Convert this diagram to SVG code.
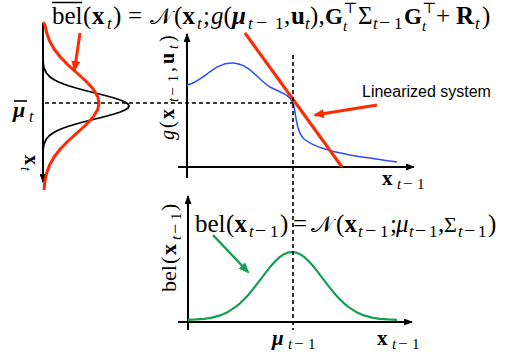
<svg xmlns="http://www.w3.org/2000/svg" width="509" height="358" viewBox="0 0 509 358">
<defs>
<marker id="ahk" markerWidth="9" markerHeight="7" refX="8" refY="3.5" orient="auto" markerUnits="userSpaceOnUse"><path d="M0,0 L9,3.5 L0,7 z" fill="#000"/></marker>
<marker id="ahr" markerWidth="11" markerHeight="9" refX="9" refY="4.5" orient="auto" markerUnits="userSpaceOnUse"><path d="M0,0 L11,4.5 L0,9 z" fill="#ff2a00"/></marker>
<marker id="ahg" markerWidth="11" markerHeight="9" refX="9" refY="4.5" orient="auto" markerUnits="userSpaceOnUse"><path d="M0,0 L11,4.5 L0,9 z" fill="#12a050"/></marker>
</defs>
<style>
.m{font-family:"Liberation Serif","DejaVu Serif",serif;font-size:25px;fill:#000}
.b{font-weight:bold}
.i{font-style:italic}
.s{font-size:17px}
.sp{font-size:15px}
.mn{font-size:20px}
.g{font-size:23px}
.cal{font-family:"DejaVu Sans","DejaVu Serif","Noto Sans",serif;font-style:normal;font-size:23px}
.ax{stroke:#000;stroke-width:2;fill:none}
.dash{stroke:#000;stroke-width:1.6;stroke-dasharray:4 3;fill:none}
.lab{font-family:"Liberation Sans",Arial,sans-serif;font-size:16px;fill:#000}
</style>

<g id="left-plot">
<line class="ax" x1="43" y1="23" x2="43" y2="182" marker-end="url(#ahk)"/>
<polyline fill="none" stroke="#000" stroke-width="1.8" stroke-linejoin="round" points="43,58 43.2,63 43.8,67 44.9,70 46.4,73 49,76 51.5,78 54.6,80 58.6,82 63.5,84 69.3,86 76,88 83.3,90 91.2,92 99.2,94 107,96 114.2,98 120.3,100 125,102 128,104 129,106 128,108 125,110 120.3,112 114.2,114 107,116 99.2,118 91.2,120 83.3,122 76,124 69.3,126 63.5,128 58.6,130 54.6,132 51.5,134 49,136 46.4,139 44.9,142 43.8,145 43.2,149 43,154"/>
<polyline fill="none" stroke="#ff2a00" stroke-width="3" stroke-linejoin="round" points="43,22 44.9,25 46.7,33 49.6,41 54.1,49 60.3,57 68.1,65 77,73 85.8,81 93.2,89 97.9,97 99,103 97.9,109 93.2,117 85.8,125 77,133 68.1,141 60.3,149 54.1,157 49.6,165 46.7,173 44.9,181 44,190"/>
<text class="m b i" x="13" y="117" style="font-size:22px">μ</text>
<text class="m i" x="29" y="122" style="font-size:16px">t</text>
<line x1="14" y1="101" x2="27" y2="101" stroke="#000" stroke-width="1.6"/>
<text class="m" transform="translate(25,155) rotate(90)" style="font-size:20px"><tspan class="b" x="0" y="0">x</tspan><tspan class="i" x="12" y="4" style="font-size:14px">t</tspan></text>
</g>

<g id="top-plot">
<line class="ax" x1="187" y1="178" x2="187" y2="34" marker-end="url(#ahk)"/>
<line class="ax" x1="178" y1="167" x2="414" y2="167" marker-end="url(#ahk)"/>
<path fill="none" stroke="#2b4cff" stroke-width="1.5" d="M187,85 C203,82 214,62 233,63 C250,64 258,80 270,87 C282,93 290,95 293,103 C296,112 296,132 304,139 C314,147 330,151 350,155 C368,158 385,160 397,162"/>
<line x1="245" y1="33" x2="342" y2="167" stroke="#ff2a00" stroke-width="3"/>
<text class="m" transform="translate(174,140) rotate(-90)" style="font-size:20px"><tspan class="i" x="0" y="0">g</tspan><tspan x="12" y="0">(</tspan><tspan class="b" x="21" y="0">x</tspan><tspan class="i" x="38" y="4" style="font-size:14px">t</tspan><tspan x="44" y="4" style="font-size:16px">−</tspan><tspan x="58" y="4" style="font-size:14px">1</tspan><tspan x="68" y="0">,</tspan><tspan class="b" x="76" y="0">u</tspan><tspan class="i" x="91" y="4" style="font-size:14px">t</tspan><tspan x="98" y="0">)</tspan></text>
<text class="m" style="font-size:21px"><tspan class="b" x="382" y="185">x</tspan><tspan class="i" x="397" y="189" style="font-size:15px">t</tspan><tspan x="403" y="189" style="font-size:17px">−</tspan><tspan x="417" y="189" style="font-size:15px">1</tspan></text>
<text class="lab" x="362" y="97">Linearized system</text>
</g>

<g id="bottom-plot">
<line class="ax" x1="188" y1="330" x2="188" y2="196" marker-end="url(#ahk)"/>
<line class="ax" x1="178" y1="322" x2="412" y2="322" marker-end="url(#ahk)"/>
<polyline fill="none" stroke="#12a050" stroke-width="2.2" stroke-linejoin="round" points="188,319.8 196,319.4 204,318.8 212,317.6 220,315.4 228,311.9 236,306.7 240,303.3 244,299.5 248,295.2 252,290.4 256,285.3 260,280.1 264,274.8 268,269.6 272,264.8 276,260.5 280,256.9 284,254.2 288,252.6 292,252 296,252.6 300,254.2 304,256.9 308,260.5 312,264.8 316,269.6 320,274.8 324,280.1 328,285.3 332,290.4 336,295.2 340,299.5 344,303.3 348,306.7 356,311.9 364,315.4 372,317.6 380,318.8 388,319.4 397,319.8"/>
<text class="m" transform="translate(176,292) rotate(-90)" style="font-size:22px"><tspan x="0" y="0">bel</tspan><tspan x="28" y="0">(</tspan><tspan class="b" x="37" y="0">x</tspan><tspan class="i" x="52" y="5" style="font-size:15px">t</tspan><tspan x="58" y="5" style="font-size:18px">−</tspan><tspan x="72" y="5" style="font-size:15px">1</tspan><tspan x="81" y="0">)</tspan></text>
<text class="m" style="font-size:21px"><tspan class="b i" x="272" y="345">μ</tspan><tspan class="i" x="288" y="349" style="font-size:15px">t</tspan><tspan x="294" y="349" style="font-size:17px">−</tspan><tspan x="308" y="349" style="font-size:15px">1</tspan></text>
<text class="m" style="font-size:21px"><tspan class="b" x="377" y="345">x</tspan><tspan class="i" x="392" y="349" style="font-size:15px">t</tspan><tspan x="398" y="349" style="font-size:17px">−</tspan><tspan x="412" y="349" style="font-size:15px">1</tspan></text>
</g>

<g id="guides">
<line class="dash" x1="293" y1="55" x2="293" y2="330"/>
<line class="dash" x1="45" y1="103" x2="293" y2="103"/>
</g>

<g id="formula-top">
<line x1="52" y1="2.5" x2="82" y2="2.5" stroke="#000" stroke-width="1.5"/>
<text class="m">
<tspan x="52" y="24">bel</tspan><tspan x="83" y="24">(</tspan><tspan x="92" y="24" class="b">x</tspan><tspan x="107" y="29" class="s i">t</tspan><tspan x="113" y="24">)</tspan><tspan x="128" y="24">=</tspan><tspan x="150" y="24" class="cal">𝒩</tspan><tspan x="174" y="24">(</tspan><tspan x="182.5" y="24" class="b">x</tspan><tspan x="197" y="29" class="s i">t</tspan><tspan x="203" y="24">;</tspan><tspan x="211" y="24" class="i">g</tspan><tspan x="223.5" y="24">(</tspan><tspan x="232" y="24" class="b i">μ</tspan><tspan x="248" y="29" class="s i">t</tspan><tspan x="256" y="29" class="mn">−</tspan><tspan x="275" y="29" class="s">1</tspan><tspan x="284" y="24">,</tspan><tspan x="291" y="24" class="b">u</tspan><tspan x="305" y="29" class="s i">t</tspan><tspan x="310" y="24">)</tspan><tspan x="318.5" y="24">,</tspan><tspan x="325" y="24" class="b g">G</tspan><tspan x="343" y="13" class="sp">⊤</tspan><tspan x="343" y="31" class="sp i">t</tspan><tspan x="358" y="24">Σ</tspan><tspan x="373" y="29" class="s i">t</tspan><tspan x="379" y="29" class="mn">−</tspan><tspan x="394" y="29" class="s">1</tspan><tspan x="404" y="24" class="b g">G</tspan><tspan x="422" y="13" class="sp">⊤</tspan><tspan x="422" y="31" class="sp i">t</tspan><tspan x="436" y="24">+</tspan><tspan x="456" y="24" class="b">R</tspan><tspan x="475" y="29" class="s i">t</tspan><tspan x="482" y="24">)</tspan>
</text>
</g>

<g id="formula-bottom">
<text class="m">
<tspan x="195" y="232">bel</tspan><tspan x="226" y="232">(</tspan><tspan x="234.5" y="232" class="b">x</tspan><tspan x="249" y="237" class="s i">t</tspan><tspan x="255" y="237" class="mn">−</tspan><tspan x="270" y="237" class="s">1</tspan><tspan x="280" y="232">)</tspan><tspan x="293" y="232">=</tspan><tspan x="311" y="232" class="cal">𝒩</tspan><tspan x="336" y="232">(</tspan><tspan x="344.5" y="232" class="b">x</tspan><tspan x="358" y="237" class="s i">t</tspan><tspan x="365" y="237" class="mn">−</tspan><tspan x="380" y="237" class="s">1</tspan><tspan x="390" y="232">;</tspan><tspan x="396" y="232" class="i">μ</tspan><tspan x="409" y="237" class="s i">t</tspan><tspan x="415" y="237" class="mn">−</tspan><tspan x="429" y="237" class="s">1</tspan><tspan x="438" y="232">,</tspan><tspan x="444" y="232" style="font-size:22px">Σ</tspan><tspan x="458" y="237" class="s i">t</tspan><tspan x="464" y="237" class="mn">−</tspan><tspan x="478" y="237" class="s">1</tspan><tspan x="488" y="232">)</tspan>
</text>
</g>

<g id="connectors">
<line x1="80" y1="33" x2="74.5" y2="70" stroke="#ff2a00" stroke-width="3" marker-end="url(#ahr)"/>
<line x1="377" y1="105" x2="315" y2="115" stroke="#ff2a00" stroke-width="3" marker-end="url(#ahr)"/>
<line x1="213" y1="235" x2="248" y2="272" stroke="#12a050" stroke-width="2.5" marker-end="url(#ahg)"/>
</g>
</svg>
